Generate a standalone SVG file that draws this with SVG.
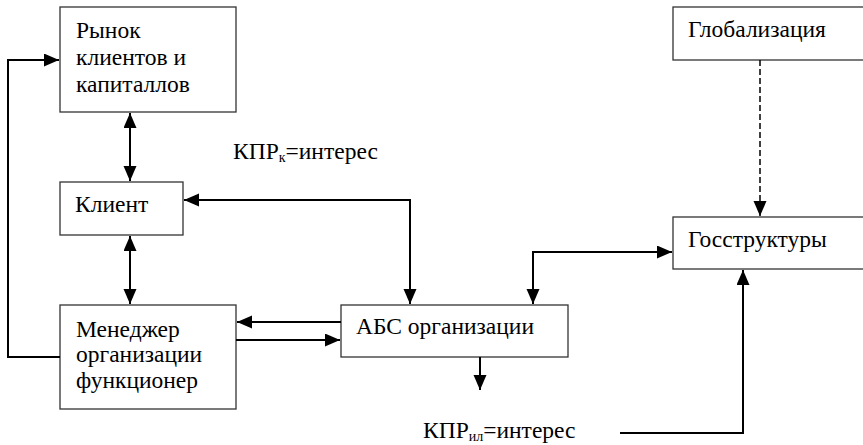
<svg xmlns="http://www.w3.org/2000/svg" width="863" height="445" viewBox="0 0 863 445">
<defs>
<marker id="ah" markerUnits="userSpaceOnUse" markerWidth="16" markerHeight="14" refX="15" refY="6.5" orient="auto-start-reverse" viewBox="0 0 16 14">
<path d="M0,0 L15,6.5 L0,13 Z" fill="#000"/>
</marker>
</defs>
<rect width="863" height="445" fill="#fff"/>
<g id="n-rynok"><rect fill="#fff" stroke="#333" stroke-width="1.3" x="60" y="7" width="176" height="105"/>
<text style="font-family:'Liberation Serif',serif !important;font-size:23.5px" x="76" y="38">Рынок</text><text style="font-family:'Liberation Serif',serif !important;font-size:23.5px" x="76" y="65">клиентов и</text><text style="font-family:'Liberation Serif',serif !important;font-size:23.5px" x="76" y="92">капиталлов</text></g>
<g id="n-client"><rect fill="#fff" stroke="#333" stroke-width="1.3" x="60" y="182" width="123" height="53"/>
<text style="font-family:'Liberation Serif',serif !important;font-size:23.5px" x="75" y="212">Клиент</text></g>
<g id="n-manager"><rect fill="#fff" stroke="#333" stroke-width="1.3" x="60" y="305" width="176" height="104"/>
<text style="font-family:'Liberation Serif',serif !important;font-size:23.5px" x="76" y="337">Менеджер</text><text style="font-family:'Liberation Serif',serif !important;font-size:23.5px" x="76" y="362">организации</text><text style="font-family:'Liberation Serif',serif !important;font-size:23.5px" x="76" y="388">функционер</text></g>
<g id="n-abs"><rect fill="#fff" stroke="#333" stroke-width="1.3" x="341" y="305" width="227" height="52"/>
<text style="font-family:'Liberation Serif',serif !important;font-size:23.5px" x="356" y="334">АБС организации</text></g>
<g id="n-global"><rect fill="#fff" stroke="#333" stroke-width="1.3" x="673" y="7" width="200" height="53"/>
<text style="font-family:'Liberation Serif',serif !important;font-size:23.5px" x="688" y="37">Глобализация</text></g>
<g id="n-gos"><rect fill="#fff" stroke="#333" stroke-width="1.3" x="673" y="217" width="200" height="52"/>
<text style="font-family:'Liberation Serif',serif !important;font-size:23.5px" x="688" y="247">Госструктуры</text></g>
<g id="labels">
<text style="font-family:'Liberation Serif',serif !important;font-size:23.5px" x="233" y="159">КПР<tspan style="font-size:14px" dy="3">к</tspan><tspan dy="-3">=интерес</tspan></text>
<text style="font-family:'Liberation Serif',serif !important;font-size:23.5px" x="423" y="438">КПР<tspan style="font-size:14px" dy="3">ил</tspan><tspan dy="-3">=интерес</tspan></text>
</g>
<g id="connectors" fill="none" stroke="#000" stroke-width="2">
<path d="M60,357 H8 V60 H59" marker-end="url(#ah)"/>
<path d="M130,113 V181" marker-start="url(#ah)" marker-end="url(#ah)"/>
<path d="M130,236 V304" marker-start="url(#ah)" marker-end="url(#ah)"/>
<path d="M410,304 V200 H184" marker-start="url(#ah)" marker-end="url(#ah)"/>
<path d="M341,322 H237" marker-end="url(#ah)"/>
<path d="M236,340 H340" marker-end="url(#ah)"/>
<path d="M533,304 V252 H672" marker-start="url(#ah)" marker-end="url(#ah)"/>
<path d="M480,357 V390" marker-end="url(#ah)"/>
<path d="M620,433 H743 V270" marker-end="url(#ah)"/>
<path d="M760,60 V216" stroke-width="1.5" stroke-dasharray="6,3" marker-end="url(#ah)"/>
</g>
</svg>
